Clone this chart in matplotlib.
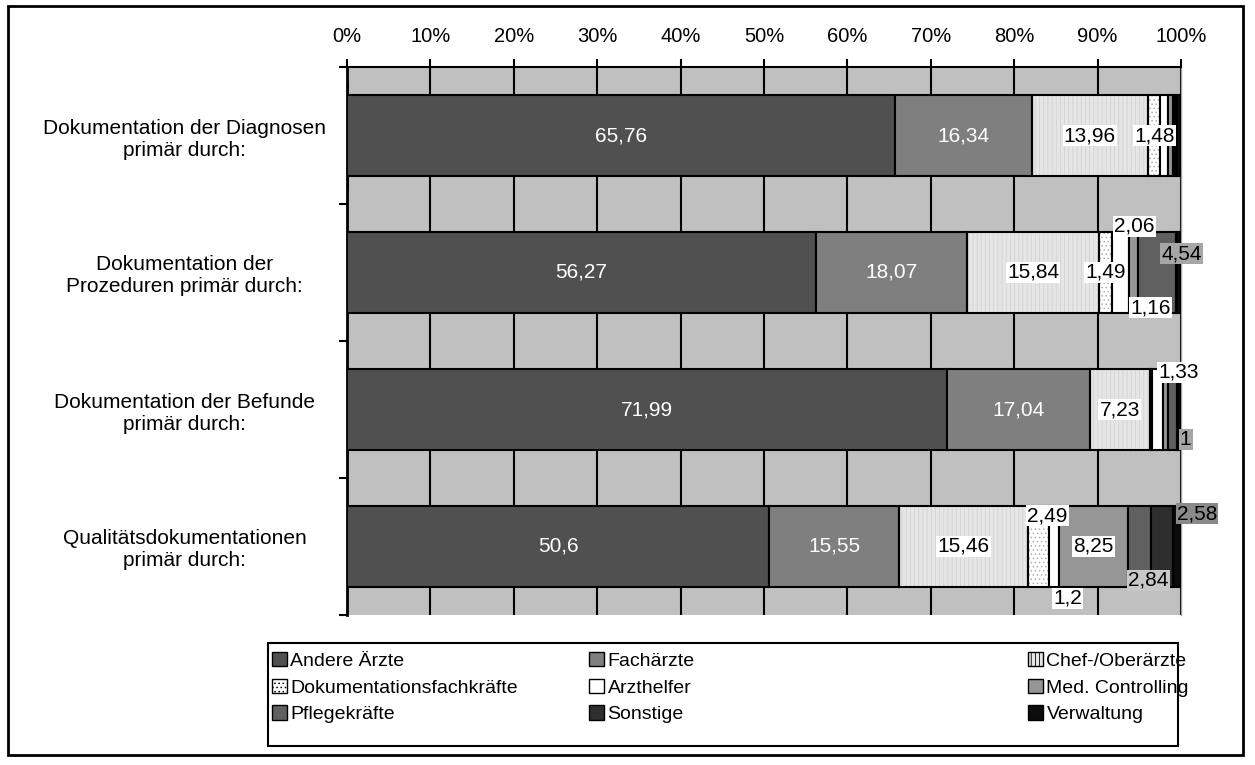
import numpy as np
import matplotlib
matplotlib.use('Agg')
import matplotlib.pyplot as plt
from matplotlib.patches import Rectangle

plt.rcParams['font.family'] = ['Liberation Sans', 'DejaVu Sans']
plt.rcParams['hatch.linewidth'] = 0.6

# data (percent per row)
categories = ['Dokumentation der Diagnosen\nprimär durch:',
              'Dokumentation der\nProzeduren primär durch:',
              'Dokumentation der Befunde\nprimär durch:',
              'Qualitätsdokumentationen\nprimär durch:']
series = ['Andere Ärzte', 'Fachärzte', 'Chef-/Oberärzte',
          'Dokumentationsfachkräfte', 'Arzthelfer', 'Med. Controlling',
          'Pflegekräfte', 'Sonstige', 'Verwaltung']
andere = [65.76, 56.27, 71.99, 50.6]
fach = [16.34, 18.07, 17.04, 15.55]
chef = [13.96, 15.84, 7.23, 15.46]
doku = [1.48, 1.49, 0.3, 2.49]
arzthelfer = [0.9, 2.06, 1.33, 1.2]
controlling = [0.6, 1.16, 0.6, 8.25]
pflege = [0.3, 4.54, 1.0, 2.84]
sonstige = [0.2, 0.1, 0.2, 2.58]
verwaltung = [0.46, 0.47, 0.31, 0.98]
xticks = [0, 10, 20, 30, 40, 50, 60, 70, 80, 90, 100]

vals = np.array([andere, fach, chef, doku, arzthelfer, controlling,
                 pflege, sonstige, verwaltung], dtype=float)
pct = vals / vals.sum(axis=0) * 100   # 100% stacked

colors = ['#505050', '#7f7f7f', '#e6e6e6', 'white', 'white', '#969696',
          '#606060', '#2e2e2e', '#0c0c0c']
hatches = [None, None, '||||', '....', None, None, None, None, None]
hatch_cols = [None, None, '#d2d2d2', '#b0b0b0', None, None, None, None, None]

# label tweaks: (row, series) -> (dx px, dy px, box colour)
moved = {(1, 4): (14, -46, 'white'), (1, 5): (17, 35, 'white'),
         (1, 6): (24, -19, '#a6a6a6'),
         (2, 4): (21, -37, 'white'), (2, 6): (13, 30, '#a6a6a6'),
         (3, 3): (9, -31, 'white'), (3, 4): (14, 52, 'white'),
         (3, 6): (9, 34, '#c8c8c8'), (3, 7): (35, -33, '#8a8a8a')}

fig = plt.figure(figsize=(12.55, 7.65), dpi=100)
ax = fig.add_axes([347/1255, 1-615/765, 834/1255, 548/765])
ax.set_facecolor('#c0c0c0')

y = np.arange(len(categories))
h = 0.59
left = np.zeros(len(categories))
handles = []
for i in range(len(series)):
    if hatches[i]:
        ax.barh(y, pct[i], h, left=left, color=colors[i], hatch=hatches[i],
                edgecolor=hatch_cols[i], linewidth=0, zorder=2)
        b = ax.barh(y, pct[i], h, left=left, facecolor='none', edgecolor='black',
                    linewidth=1.5, zorder=3)
        hb = ax.barh([0], [0], color=colors[i], hatch=hatches[i],
                     edgecolor='black', linewidth=1, label=series[i])
    else:
        b = ax.barh(y, pct[i], h, left=left, color=colors[i], edgecolor='black',
                    linewidth=1.5, zorder=3)
        hb = ax.barh([0], [0], color=colors[i], edgecolor='black', linewidth=1,
                     label=series[i])
    handles.append(hb[0])
    for r in range(len(categories)):
        v = vals[i, r]
        if v < 1:
            continue
        txt = ('%g' % v).replace('.', ',')
        xc = left[r] + pct[i, r] / 2
        if i < 2:
            ax.text(xc, y[r], txt, color='white', fontsize=15, ha='center',
                    va='center', zorder=5)
        else:
            dx, dy, bg = moved.get((r, i), (0, 0, 'white'))
            ax.annotate(txt, (xc, y[r]), xytext=(dx*0.72, -dy*0.72),
                        textcoords='offset points', ha='center', va='center',
                        fontsize=15, color='black', zorder=6,
                        bbox=dict(boxstyle='square,pad=0.06', fc=bg, ec='none'))
    left += pct[i]

ax.set_xlim(0, 100)
ax.set_ylim(3.5, -0.5)
ax.grid(axis='x', color='black', linewidth=1.5, zorder=1)
ax.set_axisbelow(True)
ax.xaxis.tick_top()
ax.set_xticks(xticks)
ax.set_xticklabels(['%d%%' % t for t in xticks], fontsize=14.5)
ax.tick_params(axis='x', direction='out', length=6, width=1.5, pad=9)
ax.set_yticks(y)
ax.set_yticklabels(categories, fontsize=15, ha='center', multialignment='center')
ax.tick_params(axis='y', length=0, pad=117)
ax.set_yticks(np.arange(-0.5, 4, 1), minor=True)
ax.tick_params(axis='y', which='minor', length=6, width=1.5, direction='out')
ax.spines['bottom'].set_visible(False)
ax.spines['top'].set_linewidth(1.5)
ax.spines['left'].set_linewidth(2)
ax.spines['right'].set_color('#a0a0a0')
ax.spines['right'].set_linewidth(1)

# legend: frame + three columns
fig.patches.append(Rectangle((268/1255, 1-746/765), 910/1255, 103/765,
                             transform=fig.transFigure, fill=False,
                             edgecolor='black', linewidth=1.5))
col_x = [272, 589, 1028]
for c in range(3):
    hs = [handles[c], handles[c+3], handles[c+6]]
    ls = [series[c], series[c+3], series[c+6]]
    fig.legend(hs, ls, loc='upper left', bbox_to_anchor=(col_x[c]/1255, 1-652/765),
               frameon=False, fontsize=14, handlelength=0.75, handleheight=0.75,
               handletextpad=0.2, labelspacing=0.45, borderpad=0, borderaxespad=0)

fig.patches.append(Rectangle((8/1255, 1-755/765), 1235/1255, 749/765,
                             transform=fig.transFigure, fill=False,
                             edgecolor='black', linewidth=2))

fig.savefig('out.png', dpi=100)
